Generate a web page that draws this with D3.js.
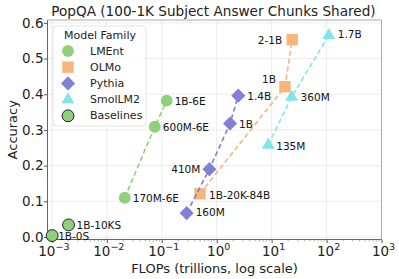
<!DOCTYPE html>
<html><head><meta charset="utf-8">
<script src="https://cdn.jsdelivr.net/npm/d3@7"></script>
<style>body{margin:0;background:#fff}svg{display:block;font-family:"DejaVu Sans",sans-serif}</style>
</head><body><svg id="c" width="399" height="279"></svg>
<script>
const title = "PopQA (100-1K Subject Answer Chunks Shared)";
const families = ["LMEnt", "OLMo", "Pythia", "SmolLM2", "Baselines"];
const colors = {LMEnt:"#8fd07a", OLMo:"#f7b57a", Pythia:"#8080d6", SmolLM2:"#80e6ea", Baselines:"#8fd07a"};
const shapes = {LMEnt:"circle", OLMo:"square", Pythia:"diamond", SmolLM2:"triangle", Baselines:"circle"};

const lmentLabels = ["170M-6E", "600M-6E", "1B-6E"];
const lmentFlops = [0.0212, 0.0747, 0.123];
const lmentAcc = [0.11, 0.309, 0.382];

const olmoLabels = ["1B-20K-84B", "1B", "2-1B"];
const olmoFlops = [0.497, 17.5, 23.7];
const olmoAcc = [0.121, 0.421, 0.553];

const pythiaLabels = ["160M", "410M", "1B", "1.4B"];
const pythiaFlops = [0.284, 0.735, 1.75, 2.47];
const pythiaAcc = [0.067, 0.19, 0.318, 0.396];

const smolLabels = ["135M", "360M", "1.7B"];
const smolFlops = [8.67, 23.1, 110];
const smolAcc = [0.258, 0.392, 0.565];

const baseLabels = ["1B-0S", "1B-10KS"];
const baseFlops = [0.00101, 0.00201];
const baseAcc = [0.004, 0.034];

const xTickVals = [1e-3, 1e-2, 1e-1, 1e0, 1e1, 1e2, 1e3];
const xTickExp = ["−3", "−2", "−1", "0", "1", "2", "3"];
const yTickVals = [0.0, 0.1, 0.2, 0.3, 0.4, 0.5, 0.6];

const svg = d3.select("#c");
const L = 47.5, R = 381.5, T = 20, B = 239.5;
const x = d3.scaleLog().domain([Math.pow(10, -3.08), 1e3]).range([L, R]);
const y = d3.scaleLinear().domain([-0.007, 0.608]).range([B, T]);

// grid
const g = svg.append("g");
g.selectAll(".gx").data(xTickVals).join("line")
  .attr("x1", d => x(d)).attr("x2", d => x(d)).attr("y1", T).attr("y2", B)
  .attr("stroke", "#e6e6e6").attr("stroke-width", 0.8);
g.selectAll(".gy").data(yTickVals).join("line")
  .attr("x1", L).attr("x2", R).attr("y1", d => y(d)).attr("y2", d => y(d))
  .attr("stroke", "#e6e6e6").attr("stroke-width", 0.8);

// axes
const xAxis = d3.axisBottom(x).tickValues(xTickVals).tickFormat("").tickSize(3.5);
const xa = svg.append("g").attr("transform", `translate(0,${B})`).call(xAxis);
xa.select(".domain").remove();
xa.selectAll("line").attr("stroke", "#555");
const minor = [];
for (let e = -4; e < 3; e++) for (let m = 2; m <= 9; m++) { const v = m * Math.pow(10, e); if (v >= x.domain()[0] && v <= 1e3) minor.push(v); }
svg.append("g").selectAll("line").data(minor).join("line")
  .attr("x1", d => x(d)).attr("x2", d => x(d)).attr("y1", B).attr("y2", B + 2)
  .attr("stroke", "#777").attr("stroke-width", 0.6);
const xl = svg.append("g").selectAll("text").data(xTickVals).join("text")
  .attr("x", (d) => x(d) + 2).attr("y", B + 16.5).attr("text-anchor", "middle")
  .attr("font-size", 13.5).attr("fill", "#222");
xl.append("tspan").text("10");
xl.append("tspan").attr("dy", -6).attr("font-size", 9.5).text((d, i) => xTickExp[i]);

const yAxis = d3.axisLeft(y).tickValues(yTickVals).tickFormat(d3.format(".1f")).tickSize(3.5);
const ya = svg.append("g").attr("transform", `translate(${L},0)`).call(yAxis);
ya.select(".domain").remove();
ya.selectAll("line").attr("stroke", "#555");
ya.selectAll("text").attr("font-size", 13.5).attr("fill", "#222").attr("font-family", "DejaVu Sans").attr("x", -4);

// spines
svg.append("line").attr("x1", L).attr("x2", L).attr("y1", T).attr("y2", B).attr("stroke", "#666").attr("stroke-width", 1);
svg.append("line").attr("x1", L).attr("x2", R).attr("y1", B).attr("y2", B).attr("stroke", "#666").attr("stroke-width", 1);
svg.append("line").attr("x1", R).attr("x2", R).attr("y1", T).attr("y2", B).attr("stroke", "#aaa").attr("stroke-width", 1);
svg.append("line").attr("x1", L).attr("x2", R).attr("y1", T).attr("y2", T).attr("stroke", "#aaa").attr("stroke-width", 1);

// titles
svg.append("text").attr("x", (L + R) / 2 - 1).attr("y", 16).attr("text-anchor", "middle")
  .attr("font-size", 13.6).attr("fill", "#222").text(title);
svg.append("text").attr("x", (L + R) / 2).attr("y", 272.5).attr("text-anchor", "middle")
  .attr("font-size", 13).attr("fill", "#222").text("FLOPs (trillions, log scale)");
svg.append("text").attr("transform", `translate(17,${(T + B) / 2}) rotate(-90)`).attr("text-anchor", "middle")
  .attr("font-size", 13).attr("fill", "#222").text("Accuracy");

const symType = {circle: d3.symbolCircle, square: d3.symbolSquare, diamond: d3.symbolDiamond, triangle: d3.symbolTriangle};
const symSize = {circle: 110, square: 130, diamond: 100, triangle: 72};
function sym(shape) {
  if (shape === "diamond") return d3.symbol().type(d3.symbolSquare).size(symSize.diamond)();
  return d3.symbol().type(symType[shape]).size(symSize[shape])();
}
function drawFamily(fam, labels, flops, acc, labelPos, line) {
  const data = labels.map((l, i) => ({l, f: flops[i], a: acc[i], p: labelPos[i]}));
  const c = colors[fam];
  if (line) {
    svg.append("path").datum(data)
      .attr("d", d3.line().x(d => x(d.f)).y(d => y(d.a)))
      .attr("fill", "none").attr("stroke", c).attr("stroke-width", 1.6).attr("stroke-dasharray", "5,3");
  }
  svg.append("g").selectAll("path").data(data).join("path")
    .attr("d", sym(shapes[fam]))
    .attr("transform", d => `translate(${x(d.f)},${y(d.a)})` + (shapes[fam] === "diamond" ? " rotate(45)" : ""))
    .attr("fill", c)
    .attr("stroke", fam === "Baselines" ? "#222" : "none").attr("stroke-width", 1);
  svg.append("g").selectAll("text").data(data).join("text")
    .attr("x", d => x(d.f) + d.p[0]).attr("y", d => y(d.a) + d.p[1])
    .attr("text-anchor", d => d.p[0] < 0 ? "end" : "start")
    .attr("dominant-baseline", "central")
    .attr("font-size", 10.5).attr("fill", "#111").text(d => d.l);
}
drawFamily("LMEnt", lmentLabels, lmentFlops, lmentAcc, [[8, 0], [8, 0], [8, 0]], true);
drawFamily("OLMo", olmoLabels, olmoFlops, olmoAcc, [[9, 1], [-9, -8], [-10, 0]], true);
drawFamily("Pythia", pythiaLabels, pythiaFlops, pythiaAcc, [[9, -1], [-9, 0], [9, 0], [9, 0]], true);
drawFamily("SmolLM2", smolLabels, smolFlops, smolAcc, [[8, 1], [9, 0], [9, -1]], true);
drawFamily("Baselines", baseLabels, baseFlops, baseAcc, [[6, 0], [8, 0]], false);

// legend
const lg = svg.append("g");
lg.append("rect").attr("x", 53).attr("y", 26).attr("width", 93).attr("height", 100).attr("rx", 3)
  .attr("fill", "#fff").attr("fill-opacity", 0.85).attr("stroke", "#ddd").attr("stroke-width", 0.8);
lg.append("text").attr("x", 100).attr("y", 35.5).attr("text-anchor", "middle").attr("dominant-baseline", "central")
  .attr("font-size", 11).attr("fill", "#222").text("Model Family");
families.forEach((f, i) => {
  const yy = 51 + i * 16.2;
  lg.append("path").attr("d", sym(shapes[f]))
    .attr("transform", `translate(68,${yy})` + (shapes[f] === "diamond" ? " rotate(45)" : ""))
    .attr("fill", colors[f]).attr("stroke", f === "Baselines" ? "#222" : "none");
  lg.append("text").attr("x", 90).attr("y", yy).attr("dominant-baseline", "central")
    .attr("font-size", 11).attr("fill", "#222").text(f);
});
</script></body></html>
